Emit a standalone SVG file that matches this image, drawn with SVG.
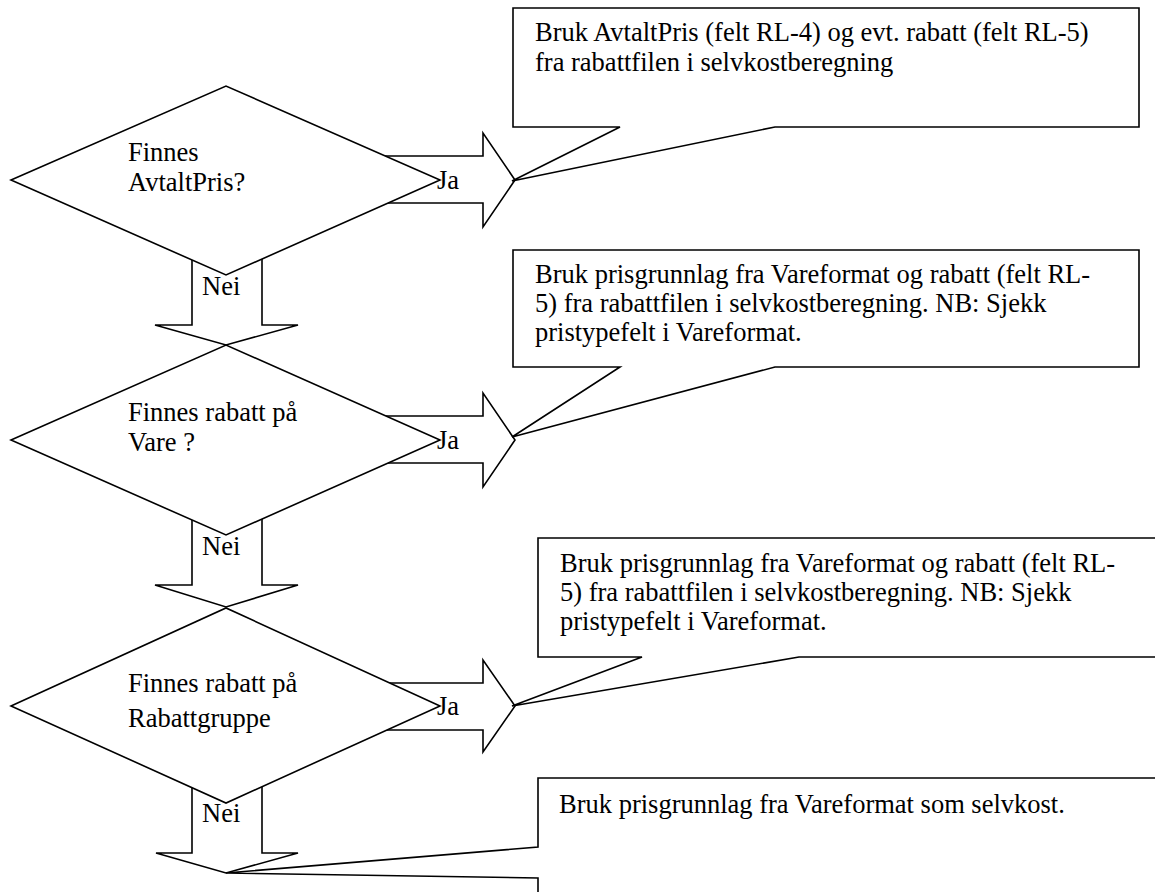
<svg xmlns="http://www.w3.org/2000/svg" width="1155" height="892" viewBox="0 0 1155 892">
<style>
.shape{fill:#fff;stroke:#000;stroke-width:1.6;stroke-linejoin:miter}
.t{font-family:"Liberation Serif","Times New Roman",serif;font-size:26.5px;fill:#000}
</style>
<rect width="1155" height="892" fill="#fff"/>
<g id="connectors">
<path class="shape" d="M300,156 H483 V133 L515,180 L483,227 V203 H300 Z"/>
<path class="shape" d="M300,416 H483 V393 L515,440 L483,487 V463 H300 Z"/>
<path class="shape" d="M300,683 H483 V660 L515,706 L483,752 V730 H300 Z"/>
<path class="shape" d="M192,230 V325 H155 L226,345 L298,325 H262 V230 Z"/>
<path class="shape" d="M192,490 V585 H155 L226,607 L298,585 H262 V490 Z"/>
<path class="shape" d="M192,760 V853 H156 L226,873 L298,853 H262 V760 Z"/>
</g>
<g id="d1">
<polygon class="shape" points="11,180 226,86 440,180 226,275"/>
<text class="t" x="128" y="161">Finnes</text>
<text class="t" x="128" y="191">AvtaltPris?</text>
</g>
<g id="d2">
<polygon class="shape" points="11,440 226,345 440,440 226,535"/>
<text class="t" x="128" y="421">Finnes rabatt på</text>
<text class="t" x="128" y="451">Vare ?</text>
</g>
<g id="d3">
<polygon class="shape" points="11,706 226,608 440,706 226,803"/>
<text class="t" x="128" y="692">Finnes rabatt på</text>
<text class="t" x="128" y="727">Rabattgruppe</text>
</g>
<g id="c1">
<path class="shape" d="M513,8 H1139 V127 H775 L512,181 L620,127 H513 Z"/>
<text class="t" x="535" y="41">Bruk AvtaltPris (felt RL-4) og evt. rabatt (felt RL-5)</text>
<text class="t" x="535" y="71">fra rabattfilen i selvkostberegning</text>
</g>
<g id="c2">
<path class="shape" d="M513,250 H1139 V367 H775 L512,437 L620,367 H513 Z"/>
<text class="t" x="535" y="283">Bruk prisgrunnlag fra Vareformat og rabatt (felt RL-</text>
<text class="t" x="535" y="312">5) fra rabattfilen i selvkostberegning. NB: Sjekk</text>
<text class="t" x="535" y="341">pristypefelt i Vareformat.</text>
</g>
<g id="c3">
<path class="shape" d="M538,538 H1162 V657 H799 L512,706 L642,657 H538 Z"/>
<text class="t" x="560" y="572">Bruk prisgrunnlag fra Vareformat og rabatt (felt RL-</text>
<text class="t" x="560" y="601">5) fra rabattfilen i selvkostberegning. NB: Sjekk</text>
<text class="t" x="560" y="630">pristypefelt i Vareformat.</text>
</g>
<g id="c4">
<path class="shape" d="M538,847 V778 H1162 V900 H538 V878 L226,873 Z"/>
<text class="t" x="559" y="813">Bruk prisgrunnlag fra Vareformat som selvkost.</text>
</g>
<g id="labels">
<text class="t" x="437" y="189">Ja</text>
<text class="t" x="437" y="449">Ja</text>
<text class="t" x="437" y="715">Ja</text>
<text class="t" x="202" y="295">Nei</text>
<text class="t" x="202" y="555">Nei</text>
<text class="t" x="202" y="822">Nei</text>
</g>
</svg>
